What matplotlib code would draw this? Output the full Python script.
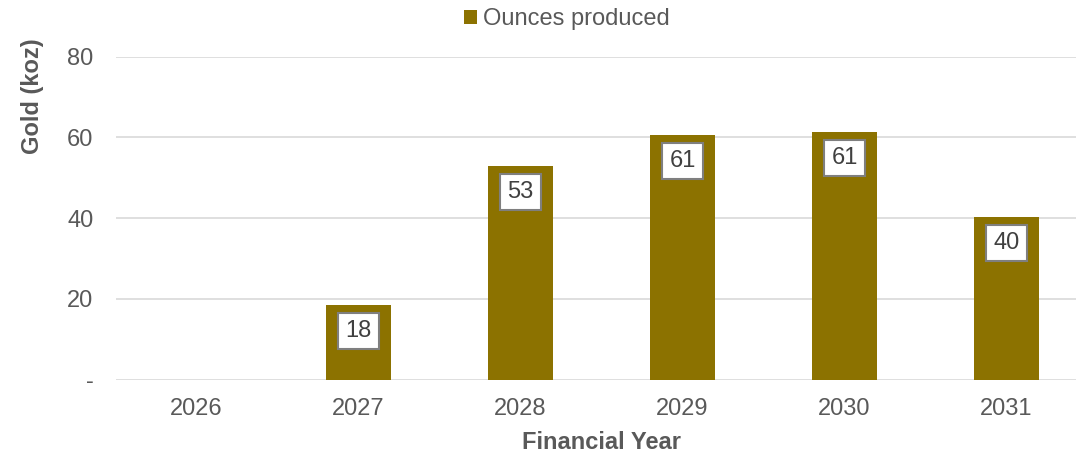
import matplotlib
matplotlib.use("Agg")
import matplotlib.pyplot as plt
import numpy as np

years = ["2026", "2027", "2028", "2029", "2030", "2031"]
ounces = [0, 18.5, 52.9, 60.6, 61.4, 40.3]
ytick_vals = [0, 20, 40, 60, 80]
ytick_labels = ["-", "20", "40", "60", "80"]

plt.rcParams['font.family'] = ['Liberation Sans', 'DejaVu Sans']

W, H = 1076, 455
fig = plt.figure(figsize=(W / 100, H / 100), dpi=100)
fig.patch.set_facecolor("white")

left = 115.5 / W
bottom = (H - 379.5) / H
width = (1087.5 - 115.5) / W
height = (379.5 - 56.7) / H
ax = fig.add_axes([left, bottom, width, height])

bar_color = "#8C7200"
text_color = "#595959"
x = np.arange(len(years))
bars = ax.bar(x, ounces, width=0.40, color=bar_color, label="Ounces produced", zorder=3)

ax.set_xlim(-0.5, len(years) - 0.5)
ax.set_ylim(0, 80)
ax.set_yticks(ytick_vals)
ax.set_yticklabels(ytick_labels)
ax.set_xticks(x)
ax.set_xticklabels(years)
ax.tick_params(axis="both", length=0, labelsize=17, colors=text_color)
ax.tick_params(axis="y", pad=16)
ax.tick_params(axis="x", pad=13)
for s in ax.spines.values():
    s.set_visible(False)
ax.yaxis.grid(True, color="#d9d9d9", linewidth=1.2, zorder=0)
ax.set_axisbelow(True)

for xi, v in zip(x, ounces):
    if v <= 0:
        continue
    ax.annotate(f"{v:.0f}", xy=(xi, v), xytext=(0, -26), textcoords="offset pixels",
                ha="center", va="center", fontsize=17, color="#404040", zorder=5,
                bbox=dict(boxstyle="square,pad=0.3", facecolor="white",
                          edgecolor="#7f7f7f", linewidth=1.5))

ax.set_xlabel("Financial Year", fontsize=17, fontweight="bold", color=text_color, labelpad=8)
fig.text(32 / W, 1 - 96 / H, "Gold (koz)", rotation=90, fontsize=17, fontweight="bold",
         color=text_color, ha="center", va="center")

leg = fig.legend(handles=[bars], labels=["Ounces produced"], loc="center",
                 bbox_to_anchor=(566.5 / W, 1 - 19.5 / H), frameon=False,
                 fontsize=17, handlelength=0.55, handleheight=0.55,
                 handletextpad=0.25, borderpad=0, borderaxespad=0)
for t in leg.get_texts():
    t.set_color(text_color)

fig.savefig("out.png", dpi=100, facecolor="white")
